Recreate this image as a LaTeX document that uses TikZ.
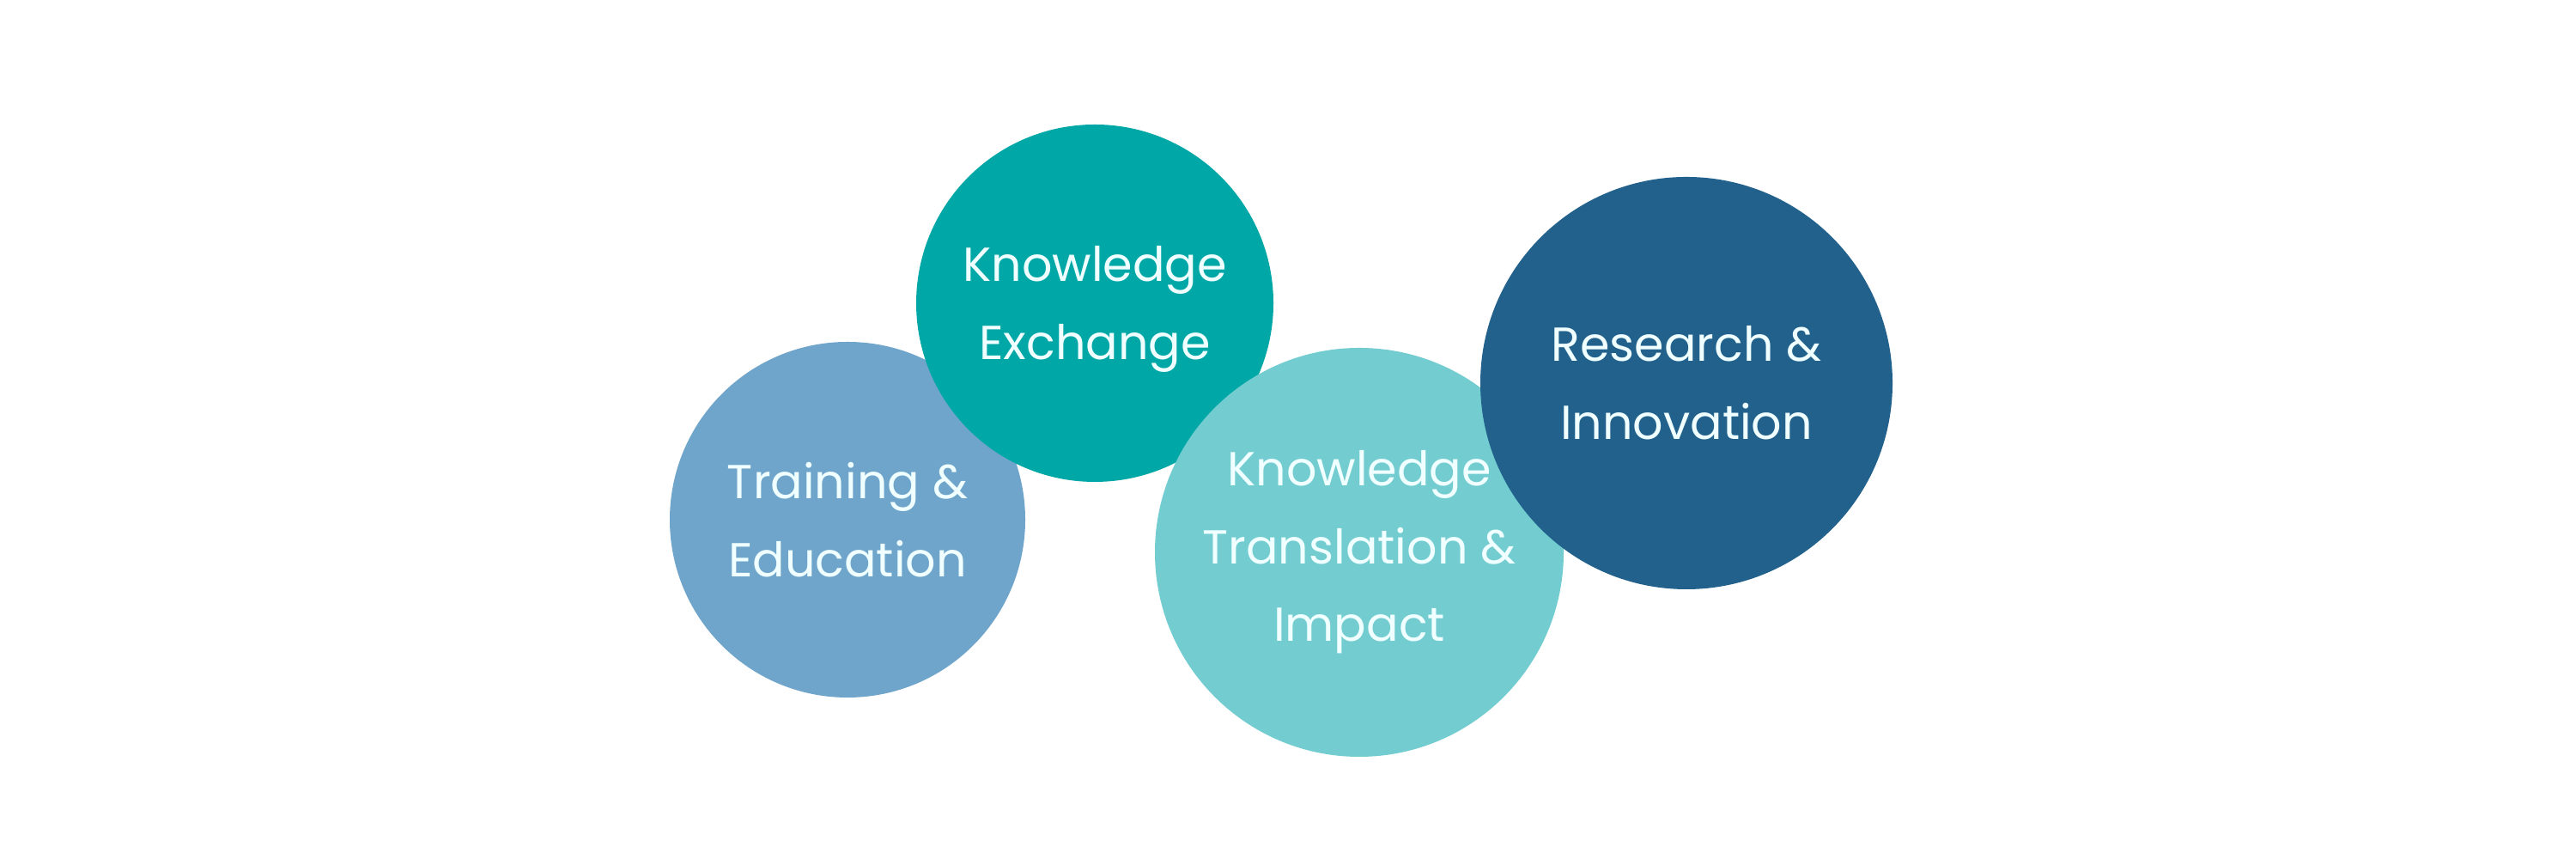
\documentclass[tikz,border=0pt]{standalone}
\usepackage{fontspec}
\setmainfont{Poppins}
\definecolor{trainc}{RGB}{111,165,203}
\definecolor{exchc}{RGB}{0,167,167}
\definecolor{transc}{RGB}{115,205,208}
\definecolor{resc}{RGB}{33,97,140}
\definecolor{txtc}{RGB}{240,255,255}
\tikzset{
  bubble/.style={circle, inner sep=0pt, draw=none, align=center, text=txtc,
    font=\fontsize{15.8}{25.8}\selectfont}
}
\begin{document}
\begin{tikzpicture}
\useasboundingbox[fill=white] (0,0) rectangle (30,10);
\node[bubble, fill=trainc, minimum size=4.14cm] (train) at (9.87,3.95) {Training \&\\Education};
\node[bubble, fill=exchc, minimum size=4.16cm] (exch) at (12.75,6.47) {};
\node[text=txtc, align=center, font=\fontsize{15.8}{25.8}\selectfont] (exchtxt) at (12.75,6.40) {Knowledge\\Exchange};
\node[bubble, fill=transc, minimum size=4.76cm] (trans) at (15.83,3.57) {Knowledge\\Translation \&\\Impact};
\node[bubble, fill=resc, minimum size=4.80cm] (res) at (19.64,5.54) {Research \&\\Innovation};
\end{tikzpicture}
\end{document}
